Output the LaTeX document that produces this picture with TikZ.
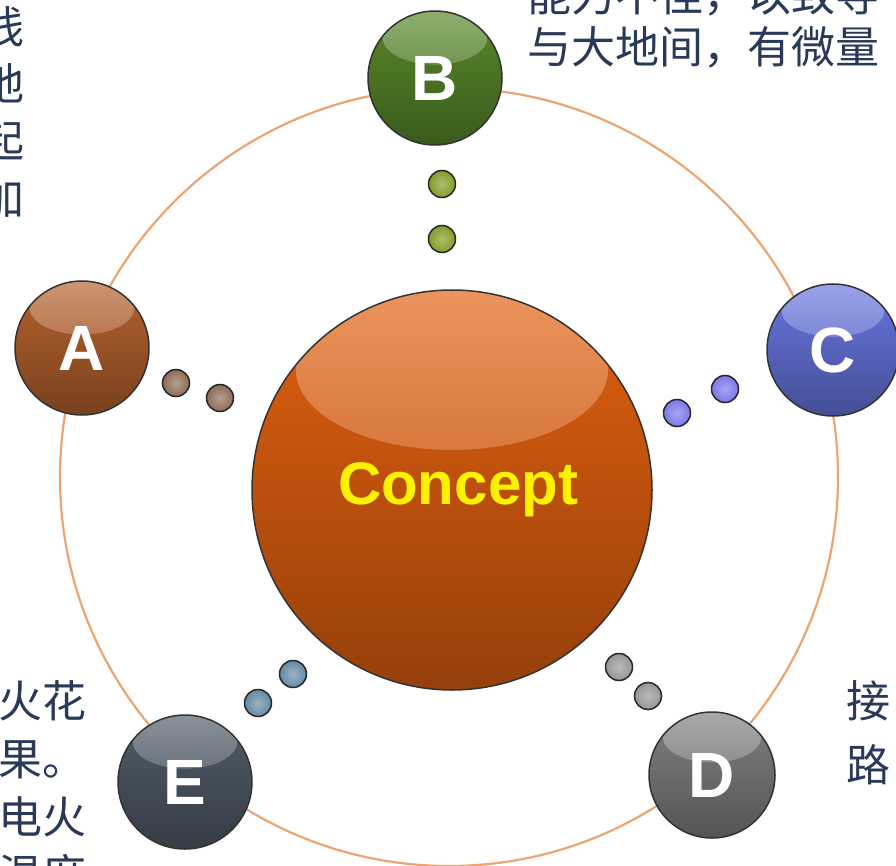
\documentclass[tikz,border=0pt]{standalone}
\usepackage{fontspec}
\setsansfont{Liberation Sans}
\newfontfamily\cjk{Noto Sans CJK SC}
\usetikzlibrary{positioning,calc}
\definecolor{ringc}{RGB}{236,164,114}
\definecolor{txtc}{RGB}{40,58,88}
\definecolor{conc}{RGB}{226,96,16}
\definecolor{ac}{RGB}{182,98,46}
\definecolor{bc}{RGB}{88,136,42}
\definecolor{cc}{RGB}{104,118,224}
\definecolor{dc}{RGB}{128,128,128}
\definecolor{ec}{RGB}{80,92,104}
\definecolor{adot}{RGB}{140,108,86}
\definecolor{bdot}{RGB}{130,156,40}
\definecolor{cdot}{RGB}{120,120,232}
\definecolor{ddot}{RGB}{150,150,150}
\definecolor{edot}{RGB}{100,138,166}

\begin{document}
\begin{tikzpicture}[x=1pt,y=-1pt,
  ball/.style 2 args={circle,draw=black!80,line width=1.5pt,inner sep=0pt,
    minimum size={2*#2pt},top color=#1,bottom color=#1!66!black,text=white,
    font=\sffamily\bfseries\fontsize{64}{64}\selectfont,
    path picture={\shade[top color=#1!35!white,bottom color=#1,opacity=.5]
      ([yshift={.6*#2pt}]path picture bounding box.center)
      ellipse [x radius={.78*#2pt},y radius={.4*#2pt}];}},
  dot/.style={circle,draw=black!85,line width=1.5pt,inner sep=0pt,
    minimum size=27pt,inner color=#1!65!white,outer color=#1},
  txt/.style={inner sep=0pt,text=txtc,align=left}]
\useasboundingbox (0,0) rectangle (896,866);
\draw[ringc,line width=2.2pt] (449,477) circle [radius=389pt];
% centre
\node[ball={conc}{200},text=yellow,font=\sffamily\bfseries\fontsize{60}{60}\selectfont]
  (con) at (452,490) {\raisebox{-4pt}{\hspace*{12pt}Concept}};
% outer balls
\node[ball={ac}{67}] (A) at (82,348) {A};
\node[ball={bc}{67}] (B) at (435,78) {B};
\node[ball={cc}{66}] (C) at (833,350) {C};
\node[ball={dc}{63}] (D) at (712,775) {D};
\node[ball={ec}{67}] (E) at (185,782) {E};
% dots
\node[dot=adot] (a1) at (176,383) {};
\node[dot=adot] (a2) at (220,398) {};
\node[dot=bdot] (b1) at (442,184) {};
\node[dot=bdot] (b2) at (442,239) {};
\node[dot=cdot] (c1) at (725,389) {};
\node[dot=cdot] (c2) at (677,413) {};
\node[dot=ddot] (d1) at (619,667) {};
\node[dot=ddot] (d2) at (648,696) {};
\node[dot=edot] (e1) at (293,674) {};
\node[dot=edot] (e2) at (258,703) {};
% texts
\node[txt,align=right,anchor=north east,font=\cjk\fontsize{44}{57}\selectfont]
  (tA) at (25,6) {线\\地\\起\\加};
\node[txt,anchor=north west,font=\cjk\fontsize{44}{52}\selectfont]
  (tB) at (527,-26) {能力不佳，以致导\\与大地间，有微量};
\node[txt,anchor=north west,font=\cjk\fontsize{44}{58}\selectfont]
  (tE) at (-2,680) {火花\\果。\\电火\\温度};
\node[txt,anchor=north west,font=\cjk\fontsize{44}{64}\selectfont]
  (tD) at (846,680) {接\\路};
\end{tikzpicture}
\end{document}
